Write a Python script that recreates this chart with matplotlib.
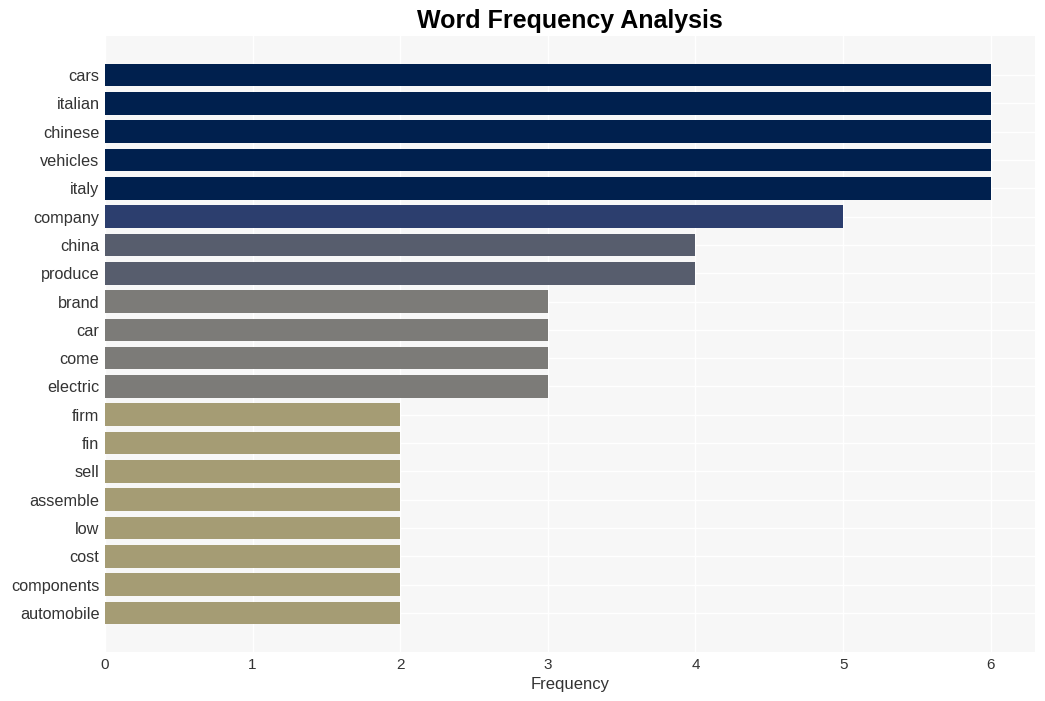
import matplotlib
matplotlib.use("Agg")
import matplotlib.pyplot as plt

plt.rcParams['font.family'] = ['Liberation Sans', 'DejaVu Sans']

# Слова и их частоты
words = ['cars', 'italian', 'chinese', 'vehicles', 'italy', 'company', 'china',
         'produce', 'brand', 'car', 'come', 'electric', 'firm', 'fin', 'sell',
         'assemble', 'low', 'cost', 'components', 'automobile']
counts = [6, 6, 6, 6, 6, 5, 4, 4, 3, 3, 3, 3, 2, 2, 2, 2, 2, 2, 2, 2]

# Цвет по значению частоты
palette = {6: '#00204e', 5: '#2c3e6e', 4: '#575d6d', 3: '#7c7b78', 2: '#a59c74'}
colors = [palette[c] for c in counts]

fig = plt.figure(figsize=(10.45, 7.01), dpi=100)
ax = fig.add_axes([105 / 1045, 49 / 701, 930 / 1045, 616 / 701])
ax.set_facecolor('#f7f7f7')

y = list(range(len(words)))
ax.barh(y, counts, height=0.8, color=colors, zorder=2)

ax.set_yticks(y)
ax.set_yticklabels(words)
ax.set_ylim(len(words) - 1 + 1.38, -1.38)
ax.set_xlim(0, 6.3)
ax.set_xticks(range(7))

ax.grid(True, color='white', linewidth=1, zorder=0)
ax.set_axisbelow(True)
for s in ax.spines.values():
    s.set_visible(False)
ax.tick_params(axis='both', length=0, labelsize=11, labelcolor='#333333')
ax.tick_params(axis='y', pad=4, labelsize=11.7)
ax.tick_params(axis='x', pad=4)

ax.set_xlabel('Frequency', fontsize=12, color='#333333', labelpad=4)
ax.set_title('Word Frequency Analysis', fontsize=18, fontweight='bold', pad=6)

fig.savefig('out.png', dpi=100, facecolor='white')
